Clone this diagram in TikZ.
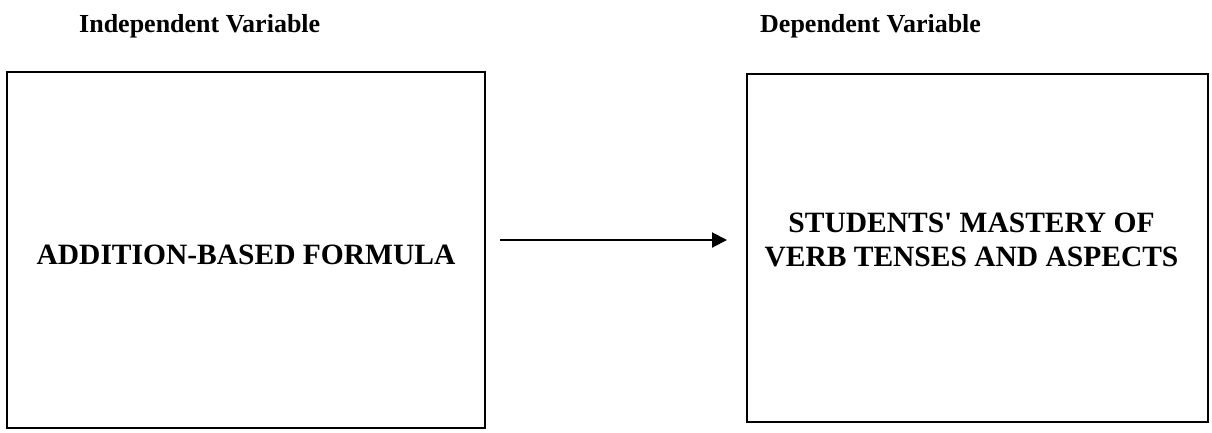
\documentclass[tikz,border=0pt]{standalone}
\usepackage{fontspec}
\setmainfont{Liberation Serif}
\usetikzlibrary{positioning,arrows.meta}

\begin{document}
\begin{tikzpicture}[
    x=1pt, y=-1pt,
    % Box styles
    varbox/.style={draw=black, line width=2pt, inner sep=0pt},
    vartext/.style={align=center, inner sep=0pt, font=\bfseries\fontsize{29.5}{34}\selectfont},
    % Label styles
    heading/.style={font=\bfseries\fontsize{26}{30}\selectfont, inner sep=0pt, anchor=base west},
    flow/.style={line width=2pt, -{Triangle[length=15pt,width=15pt]}},
]

\useasboundingbox (0,0) rectangle (1212,432);

% Column headings
\node[heading] (iv-title) at (79,32) {Independent Variable};
\node[heading] (dv-title) at (760,32) {Dependent Variable};

% The two variable boxes
\node[varbox, minimum width=478pt, minimum height=356pt] (iv) at (246,250) {};
\node[varbox, minimum width=461pt, minimum height=348pt] (dv) at (977.5,248) {};

% Box texts
\node[vartext] (iv-text) at ([yshift=-5pt]iv.center) {ADDITION-BASED FORMULA};
\node[vartext] (dv-text) at ([xshift=-6pt,yshift=8pt]dv.center)
    {STUDENTS\textquotesingle\ MASTERY OF\\VERB TENSES AND ASPECTS};

% Influence arrow
\draw[flow, shorten <=14pt, shorten >=19pt] ([yshift=10pt]iv.east) -- ([yshift=10pt]iv.east -| dv.west);

\end{tikzpicture}
\end{document}
